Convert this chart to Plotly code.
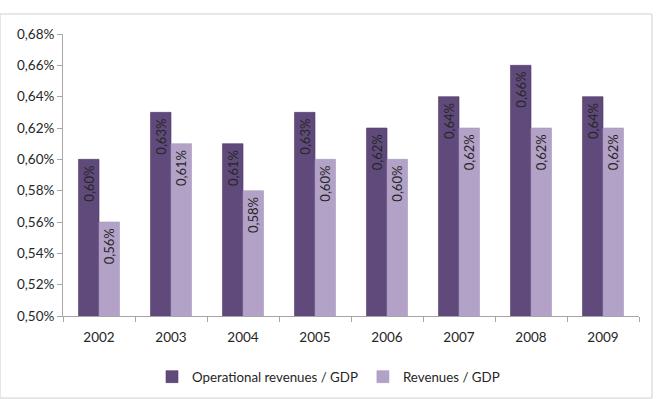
import plotly.graph_objects as go

years = ["2002", "2003", "2004", "2005", "2006", "2007", "2008", "2009"]
operational = [0.60, 0.63, 0.61, 0.63, 0.62, 0.64, 0.66, 0.64]
revenues = [0.56, 0.61, 0.58, 0.60, 0.60, 0.62, 0.62, 0.62]
y_ticks = [0.50, 0.52, 0.54, 0.56, 0.58, 0.60, 0.62, 0.64, 0.66, 0.68]

def fmt(v):
    return f"{v:.2f}%".replace(".", ",")

W, H = 657, 399
ml, mr, mt, mb = 63, 18, 34, 83
FONT = "Lato, Open Sans, sans-serif"
TXT = "#262626"

fig = go.Figure()
fig.add_bar(x=years, y=operational, name="Operational revenues / GDP",
            marker=dict(color="#604A7B", line=dict(color="#4F3D66", width=0.6)),
            text=[fmt(v) + "\u00a0" for v in operational], textposition="inside",
            insidetextanchor="end", textangle=-90,
            insidetextfont=dict(color=TXT, size=13, family=FONT),
            constraintext="none", hoverinfo="skip")
fig.add_bar(x=years, y=revenues, name="Revenues / GDP",
            marker=dict(color="#B3A2C7", line=dict(color="#A898BC", width=0.6)),
            text=[fmt(v) + "\u00a0" for v in revenues], textposition="inside",
            insidetextanchor="end", textangle=-90,
            insidetextfont=dict(color=TXT, size=13, family=FONT),
            constraintext="none", hoverinfo="skip")

pw = W - ml - mr
ph = H - mt - mb
# outer chart border (approx at x 0..652, y 14..beyond bottom)
x0 = (0 - ml) / pw
x1 = (652 - ml) / pw
y1 = (H - mb - 14) / ph
y0 = (H - mb - 398) / ph
fig.add_shape(type="rect", xref="paper", yref="paper", x0=x0, x1=x1, y0=y0, y1=y1,
              line=dict(color="#D0D0D0", width=1), layer="below")

fig.update_layout(
    width=W, height=H,
    margin=dict(l=ml, r=mr, t=mt, b=mb, autoexpand=False),
    paper_bgcolor="white", plot_bgcolor="white",
    barmode="group", bargap=0.43, bargroupgap=0,
    font=dict(family=FONT, size=13, color=TXT),
    showlegend=True,
    legend=dict(orientation="h", x=0.5, xanchor="center", xref="container",
                y=22 / H, yanchor="middle", yref="container",
                font=dict(size=13.3, family=FONT, color=TXT),
                itemwidth=30, traceorder="normal"),
)
fig.update_xaxes(showline=True, linecolor="#A6A6A6", linewidth=1,
                 ticks="outside", ticklen=5, tickcolor="#A6A6A6",
                 tickson="boundaries", showgrid=False, ticklabelstandoff=9,
                 tickfont=dict(size=13.5, family=FONT, color=TXT))
fig.update_yaxes(range=[0.50, 0.68], showline=True, linecolor="#A6A6A6", linewidth=1,
                 ticks="outside", ticklen=5, tickcolor="#A6A6A6",
                 tickvals=y_ticks, ticktext=[fmt(v) for v in y_ticks],
                 showgrid=False, zeroline=False,
                 tickfont=dict(size=13.5, family=FONT, color=TXT))

fig.write_html("out.html")
